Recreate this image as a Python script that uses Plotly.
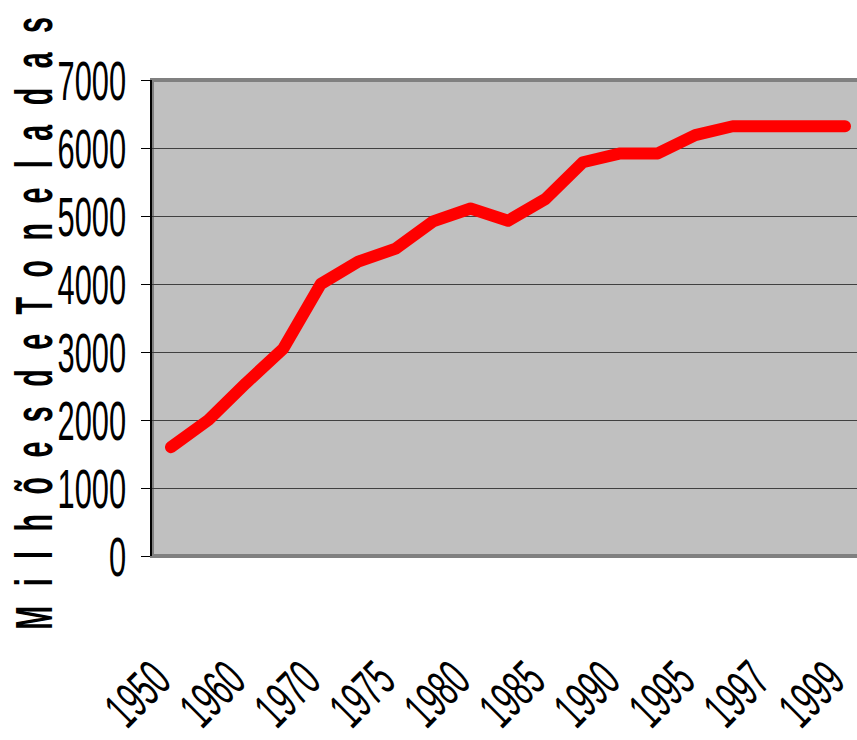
import plotly.graph_objects as go

# ---- data ----
years = ["1950", "1955", "1960", "1965", "1970", "1972", "1975", "1977", "1980", "1982",
         "1985", "1987", "1990", "1992", "1995", "1996", "1997", "1998", "1999"]
values = [1600, 2000, 2540, 3050, 4000, 4330, 4520, 4920, 5110, 4930,
          5250, 5790, 5920, 5920, 6190, 6320, 6320, 6320, 6320]
label_years = ["1950", "1960", "1970", "1975", "1980", "1985", "1990", "1995", "1997", "1999"]
y_ticks = [0, 1000, 2000, 3000, 4000, 5000, 6000, 7000]
y_title = "M i l h õ e s d e T o n e l a d a s"

FONT = "Liberation Sans, Arial, sans-serif"

fig = go.Figure()
fig.add_trace(go.Scatter(
    x=years, y=values, mode="lines",
    line=dict(color="#FF0000", width=12),
    showlegend=False, hoverinfo="skip",
))

fig.update_layout(
    width=857, height=740,
    margin=dict(l=152, r=0, t=80, b=184, pad=0, autoexpand=False),
    paper_bgcolor="white",
    plot_bgcolor="#C0C0C0",
    showlegend=False,
    xaxis=dict(
        type="category",
        range=[-0.507, 18.32],
        automargin=False,
        tickmode="array", tickvals=label_years, ticktext=label_years,
        tickangle=-45,
        tickfont=dict(family=FONT, size=52, color="black"),
        showgrid=False, showline=False, zeroline=False, ticks="",
        ticklabelstandoff=82,
    ),
    yaxis=dict(
        range=[0, 7000],
        automargin=False,
        tickmode="array", tickvals=y_ticks, ticktext=[str(v) for v in y_ticks],
        tickfont=dict(family=FONT, size=56, color="black"),
        showgrid=True, gridcolor="#404040", gridwidth=1,
        zeroline=False,
        showline=True, linecolor="black", linewidth=1.5,
        ticks="outside", ticklen=9, tickwidth=1, tickcolor="black",
        ticklabelstandoff=4,
    ),
    shapes=[dict(
        type="rect", xref="paper", yref="paper", x0=0, x1=1.02, y0=0, y1=1,
        line=dict(color="#808080", width=4), fillcolor="rgba(0,0,0,0)", layer="between",
    )],
    annotations=[dict(
        text=y_title, xref="paper", yref="paper",
        x=(34 - 152) / 705, y=0.4937, xanchor="center", yanchor="middle",
        textangle=-90, showarrow=False,
        font=dict(family=FONT, size=52, color="black", weight="bold"),
    )],
)

post = r"""
var gd = document.getElementById('{plot_id}');
// condense a text element along its own baseline, keeping its anchor point fixed
function sq(el, sx, dx, dy){
  if (el.getAttribute('data-sq')) return;
  var x = parseFloat(el.getAttribute('x') || 0), y = parseFloat(el.getAttribute('y') || 0);
  var t = el.getAttribute('transform') || '';
  el.setAttribute('transform', 'translate(' + dx + ',' + dy + ') ' + t + ' translate(' + x + ',' + y + ') scale(' + sx + ',1) translate(' + (-x) + ',' + (-y) + ')');
  el.setAttribute('data-sq', '1');
}
function apply(){
  gd.querySelectorAll('.ytick text').forEach(function(e){ sq(e, 0.55, 0, 0); });
  gd.querySelectorAll('.xtick text').forEach(function(e){ sq(e, 0.57, -16, 0); });
  gd.querySelectorAll('.annotation-text').forEach(function(e){ e.style.letterSpacing = '10.5px'; sq(e, 0.55, 0, 0); });
  gd.querySelectorAll('.scatterlayer .js-line').forEach(function(e){ e.style.strokeLinecap = 'round'; e.style.strokeLinejoin = 'round'; });
}
apply();
gd.on('plotly_afterplot', apply);
"""

fig.write_html("out.html", post_script=post)
